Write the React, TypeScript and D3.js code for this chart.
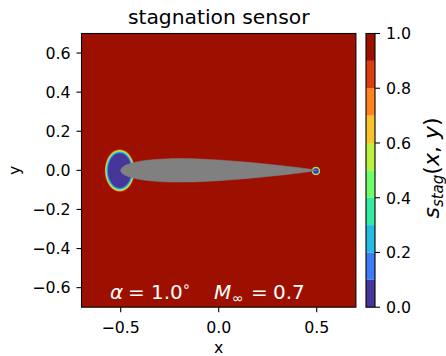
import React from "react";
import * as d3 from "d3";

// ---- data ----
const xTicks = [-0.5, 0.0, 0.5];
const yTicks = [-0.6, -0.4, -0.2, 0.0, 0.2, 0.4, 0.6];
const levels = [0, 0.1, 0.2, 0.3, 0.4, 0.5, 0.6, 0.7, 0.8, 0.9, 1.0];
const cbTicks = [0.0, 0.2, 0.4, 0.6, 0.8, 1.0];
const background = 0.95;

// airfoil (NACA 0012, chord from -0.5 to 0.5): chord station, half-thickness
const airfoilX = [0, 0.005, 0.0125, 0.025, 0.05, 0.075, 0.1, 0.15, 0.2, 0.25, 0.3, 0.4, 0.5, 0.6, 0.7, 0.8, 0.9, 0.95, 1.0];
const airfoilT = [0, 0.0122, 0.01894, 0.02615, 0.03555, 0.042, 0.04683, 0.05345, 0.05737, 0.05941, 0.06002, 0.05803, 0.05294, 0.04563, 0.03664, 0.02623, 0.01448, 0.00807, 0.00126];
const chordStart = -0.5;
const chordLength = 1.0;

// leading-edge stagnation region: band value, semi-axes
const leCenter = [-0.505, -0.001];
const leBands = [0.85, 0.75, 0.65, 0.55, 0.45, 0.35, 0.25, 0.15, 0.05];
const leRx = [0.0765, 0.0745, 0.0725, 0.071, 0.0695, 0.068, 0.066, 0.0635, 0.060];
const leRy = [0.109, 0.1065, 0.104, 0.102, 0.100, 0.098, 0.0955, 0.0925, 0.089];

// trailing-edge stagnation region
const teCenter = [0.496, -0.003];
const teBands = [0.85, 0.75, 0.65, 0.55, 0.45, 0.35, 0.25, 0.15, 0.05];
const teR = [0.0215, 0.0205, 0.0195, 0.0185, 0.0175, 0.0165, 0.0155, 0.014, 0.0125];

const W = 446, H = 356;
const FONT = "DejaVu Sans, sans-serif";

export default function App() {
  const x = d3.scaleLinear().domain([-0.7, 0.7]).range([81.5, 355.9]);
  const y = d3.scaleLinear().domain([-0.7, 0.7]).range([307.2, 33.5]);
  const cb = d3.scaleLinear().domain([0, 1]).range([307.2, 33.5]);
  const color = (v: number) => d3.interpolateTurbo(v);
  const mid = (i: number) => (levels[i] + levels[i + 1]) / 2;

  const upper = airfoilX.map((c, i) => [chordStart + c * chordLength, airfoilT[i]] as [number, number]);
  // loop: TE upper -> LE -> TE lower
  const pts = [...upper.slice().reverse(), ...airfoilX.slice(1).map((c, i) => [chordStart + c * chordLength, -airfoilT[i + 1]] as [number, number])];
  const line = d3.line<[number, number]>().x(d => x(d[0])).y(d => y(d[1])).curve(d3.curveCatmullRom.alpha(0.5));
  const airfoilPath = line(pts) + "Z";

  const plotL = x(-0.7), plotR = x(0.7), plotT = y(0.7), plotB = y(-0.7);
  const cbL = 366, cbR = 375;
  const fmt = (v: number) => d3.format(".1f")(v).replace("-", "\u2212");

  return (
    <svg width={W} height={H} style={{ position: "absolute", left: 0, top: 0 }} fontFamily={FONT}>
      <rect x={0} y={0} width={W} height={H} fill="white" />
      <defs>
        <clipPath id="plotclip">
          <rect x={plotL} y={plotT} width={plotR - plotL} height={plotB - plotT} />
        </clipPath>
      </defs>
      <g clipPath="url(#plotclip)">
        <rect x={plotL} y={plotT} width={plotR - plotL} height={plotB - plotT} fill={color(background)} />
        {leBands.map((b, i) => (
          <ellipse key={"le" + i} cx={x(leCenter[0])} cy={y(leCenter[1])}
            rx={x(leCenter[0] + leRx[i]) - x(leCenter[0])} ry={y(leCenter[1]) - y(leCenter[1] + leRy[i])}
            fill={color(b)} />
        ))}
        {teBands.map((b, i) => (
          <circle key={"te" + i} cx={x(teCenter[0])} cy={y(teCenter[1])}
            r={x(teCenter[0] + teR[i]) - x(teCenter[0])} fill={color(b)} />
        ))}
        <path d={airfoilPath} fill="#808080" stroke="#808080" strokeWidth={0.5} />
      </g>
      <rect x={plotL} y={plotT} width={plotR - plotL} height={plotB - plotT} fill="none" stroke="black" strokeWidth={1.1} />

      {/* x ticks */}
      {xTicks.map(t => (
        <g key={"xt" + t}>
          <line x1={x(t)} x2={x(t)} y1={plotB} y2={plotB + 5} stroke="black" strokeWidth={1.1} />
          <text x={x(t)} y={332.5} textAnchor="middle" fontSize={15.8}>{fmt(t)}</text>
        </g>
      ))}
      {yTicks.map(t => (
        <g key={"yt" + t}>
          <line x1={plotL - 5} x2={plotL} y1={y(t)} y2={y(t)} stroke="black" strokeWidth={1.1} />
          <text x={70.5} y={y(t) + 5.8} textAnchor="end" fontSize={15.8}>{fmt(t)}</text>
        </g>
      ))}
      <text x={(plotL + plotR) / 2} y={353} textAnchor="middle" fontSize={15.8}>x</text>
      <text transform={`translate(20,${(plotT + plotB) / 2}) rotate(-90)`} textAnchor="middle" fontSize={15.8}>y</text>

      <text x={(plotL + plotR) / 2} y={24} textAnchor="middle" fontSize={20.3}>stagnation sensor</text>

      {/* annotation */}
      <text y={298.5} fontSize={20} fill="white">
        <tspan x={110} fontStyle="italic">α</tspan>
        <tspan x={128}>=</tspan>
        <tspan x={151}>1.0</tspan>
        <tspan x={182} dy={-8} fontSize={14}>∘</tspan>
        <tspan x={214} dy={8} fontStyle="italic">M</tspan>
        <tspan x={232} dy={4} fontSize={14}>∞</tspan>
        <tspan x={251} dy={-4}>=</tspan>
        <tspan x={273}>0.7</tspan>
      </text>

      {/* colorbar */}
      {levels.slice(0, -1).map((l, i) => (
        <rect key={"cb" + i} x={cbL} width={cbR - cbL} y={cb(levels[i + 1])} height={cb(l) - cb(levels[i + 1])} fill={color(mid(i))} />
      ))}
      <rect x={cbL} y={cb(1)} width={cbR - cbL} height={cb(0) - cb(1)} fill="none" stroke="black" strokeWidth={1.1} />
      {cbTicks.map(t => (
        <g key={"cbt" + t}>
          <line x1={cbR} x2={cbR + 5} y1={cb(t)} y2={cb(t)} stroke="black" strokeWidth={1.1} />
          <text x={386} y={cb(t) + 5.8} fontSize={15.8}>{fmt(t)}</text>
        </g>
      ))}
      <text transform={`translate(439,168) rotate(-90)`} textAnchor="middle" fontSize={22}>
        <tspan fontStyle="italic">s</tspan>
        <tspan fontStyle="italic" fontSize={15} dy={4}>stag</tspan>
        <tspan dy={-4}>(</tspan>
        <tspan fontStyle="italic">x</tspan>
        <tspan>, </tspan>
        <tspan fontStyle="italic">y</tspan>
        <tspan>)</tspan>
      </text>
    </svg>
  );
}
